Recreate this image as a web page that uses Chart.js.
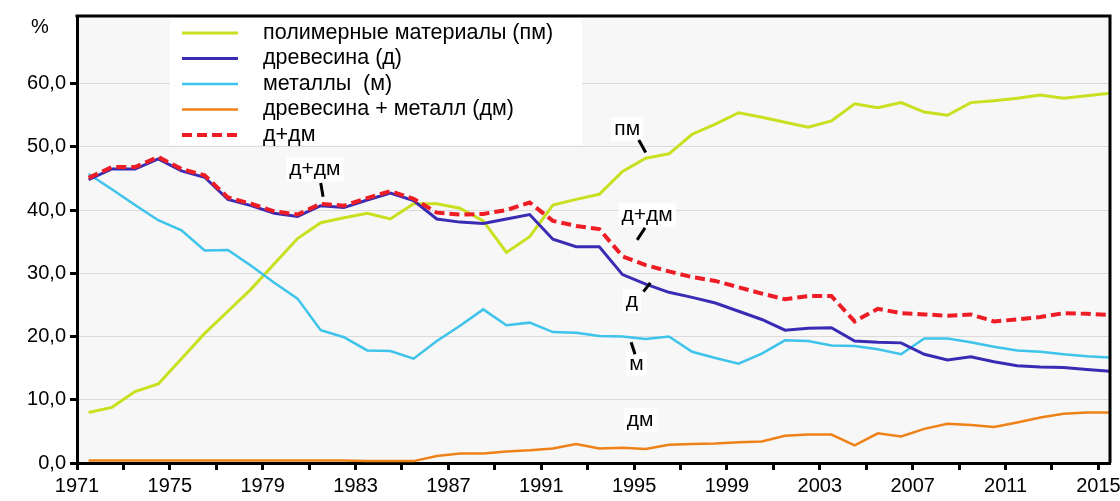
<!DOCTYPE html>
<html lang="ru">
<head>
<meta charset="utf-8">
<title>Материалы, %</title>
<script src="https://cdn.jsdelivr.net/npm/chart.js@4.4.1/dist/chart.umd.min.js"></script>
<style>
  html, body { margin: 0; padding: 0; background: #fff; }
  #wrap { width: 1120px; height: 501px; }
</style>
</head>
<body>
<div id="wrap"><canvas id="materialsChart" width="1120" height="501"></canvas></div>
<script>
// Years 1971..2015, one value per year
const years = Array.from({ length: 45 }, (_, i) => 1971 + i);

// Shares, %
const polymers = [8.0, 8.8, 11.3, 12.5, 16.5, 20.5, 24.0, 27.5, 31.5, 35.5,
                  38.0, 38.8, 39.5, 38.6, 41.0, 41.0, 40.3, 38.3, 33.3, 35.8,
                  40.8, 41.7, 42.5, 46.1, 48.2, 48.9, 52.0, 53.6, 55.4, 54.7,
                  53.9, 53.1, 54.1, 56.8, 56.2, 57.0, 55.5, 55.0, 57.0, 57.3,
                  57.7, 58.2, 57.7, 58.1, 58.5];
const wood = [44.8, 46.5, 46.5, 48.1, 46.2, 45.2, 41.7, 40.7, 39.5, 39.0,
              40.7, 40.4, 41.6, 42.7, 41.5, 38.6, 38.1, 37.9, 38.6, 39.3,
              35.4, 34.2, 34.2, 29.8, 28.3, 27.0, 26.2, 25.3, 24.0, 22.7,
              21.0, 21.3, 21.4, 19.3, 19.1, 19.0, 17.2, 16.3, 16.8, 16.0,
              15.4, 15.2, 15.1, 14.8, 14.5];
const metals = [45.7, 43.3, 40.8, 38.4, 36.8, 33.6, 33.7, 31.2, 28.5, 26.0,
                21.0, 19.9, 17.8, 17.7, 16.5, 19.3, 21.7, 24.3, 21.8, 22.2,
                20.7, 20.6, 20.1, 20.0, 19.6, 20.0, 17.6, 16.6, 15.7, 17.3,
                19.4, 19.3, 18.6, 18.5, 18.0, 17.2, 19.7, 19.7, 19.1, 18.4,
                17.8, 17.6, 17.2, 16.9, 16.7];
const woodMetal = [0.4, 0.4, 0.4, 0.4, 0.4, 0.4, 0.4, 0.4, 0.4, 0.4,
                   0.4, 0.4, 0.3, 0.3, 0.3, 1.1, 1.5, 1.5, 1.8, 2.0,
                   2.3, 3.0, 2.3, 2.4, 2.2, 2.9, 3.0, 3.1, 3.3, 3.4,
                   4.3, 4.5, 4.5, 2.8, 4.7, 4.2, 5.4, 6.2, 6.0, 5.7,
                   6.4, 7.2, 7.8, 8.0, 8.0];
const woodTotal = [45.1, 46.8, 46.8, 48.4, 46.5, 45.5, 42.0, 41.0, 39.8, 39.3,
                   41.0, 40.7, 41.9, 43.0, 41.8, 39.6, 39.3, 39.4, 40.0, 41.2,
                   38.3, 37.5, 37.0, 32.7, 31.3, 30.3, 29.4, 28.8, 27.8, 26.8,
                   25.9, 26.4, 26.4, 22.4, 24.4, 23.7, 23.5, 23.3, 23.5, 22.4,
                   22.7, 23.1, 23.7, 23.6, 23.4];

// Axis ticks
const xTickYears = [1971, 1975, 1979, 1983, 1987, 1991, 1995, 1999, 2003, 2007, 2011, 2015];
const yTickValues = [0, 10, 20, 30, 40, 50, 60];

// Short labels next to the lines: text centre and pointer ends in axis units
const notes = [
    { text: 'д+дм', x: 1981.25, y: 46.4, line: [1981.5, 44.3, 1981.6, 42.1] },
    { text: 'пм',   x: 1994.7,  y: 52.8, line: [1995.2, 51.1, 1995.5, 49.1] },
    { text: 'д+дм', x: 1995.56, y: 39.2, line: [1995.47, 37.2, 1995.13, 35.3] },
    { text: 'д',    x: 1994.9,  y: 25.6, line: [1995.7, 28.5, 1995.4, 27.1] },
    { text: 'м',    x: 1995.1,  y: 15.7, line: [1994.87, 19.1, 1995.04, 17.2] },
    { text: 'дм',   x: 1995.26, y: 6.8 }
];

const FONT = '"Liberation Sans", Arial, Helvetica, sans-serif';

// annual values sit in the middle of their year
function toPoints(values) {
    return years.map((yr, i) => ({ x: yr + 0.5, y: values[i] }));
}

const series = [
    { label: 'полимерные материалы (пм)', data: polymers, color: '#c8e020', width: 3, order: 4 },
    { label: 'древесина (д)', data: wood, color: '#3a2bb5', width: 3, order: 1 },
    { label: 'металлы  (м)', data: metals, color: '#3ec3ea', width: 2.5, order: 2 },
    { label: 'древесина + металл (дм)', data: woodMetal, color: '#ee8218', width: 2.5, order: 3 },
    { label: 'д+дм', data: woodTotal, color: '#ee1c25', width: 4, dash: [10, 5], order: 0 }
];

// Plot background, frame, legend box and line labels
const decorations = {
    id: 'decorations',
    beforeDatasetsDraw(chart) {
        const { ctx, chartArea: a } = chart;
        ctx.save();
        ctx.globalCompositeOperation = 'destination-over';
        ctx.fillStyle = '#f7f7f7';
        ctx.fillRect(a.left, a.top, a.right - a.left, a.bottom - a.top);
        ctx.restore();
    },
    afterDatasetsDraw(chart) {
        const { ctx, chartArea: a, scales: { x, y } } = chart;
        ctx.save();

        // top and right frame
        ctx.strokeStyle = '#000';
        ctx.lineWidth = 3;
        ctx.beginPath();
        ctx.moveTo(a.left - 1.5, a.top);
        ctx.lineTo(a.right, a.top);
        ctx.lineTo(a.right, a.bottom);
        ctx.stroke();

        // legend
        const lx = a.left + 93, ly = a.top + 2;
        ctx.fillStyle = '#fff';
        ctx.fillRect(lx, ly, 412, 127);
        ctx.font = '21.5px ' + FONT;
        ctx.textBaseline = 'middle';
        ctx.textAlign = 'left';
        series.forEach((s, i) => {
            const rowY = a.top + 17 + i * 25.5;
            ctx.strokeStyle = s.color;
            ctx.lineWidth = s.width;
            ctx.setLineDash(s.dash || []);
            ctx.beginPath();
            ctx.moveTo(a.left + 105, rowY);
            ctx.lineTo(a.left + 161, rowY);
            ctx.stroke();
            ctx.setLineDash([]);
            ctx.fillStyle = '#000';
            ctx.fillText(s.label, a.left + 186, rowY);
        });

        // labels beside the lines
        ctx.font = '21px ' + FONT;
        ctx.textAlign = 'center';
        notes.forEach(n => {
            const px = x.getPixelForValue(n.x);
            const py = y.getPixelForValue(n.y);
            const w = ctx.measureText(n.text).width;
            ctx.fillStyle = '#fff';
            ctx.fillRect(px - w / 2 - 3, py - 12, w + 6, 24);
            ctx.fillStyle = '#000';
            ctx.fillText(n.text, px, py);
            if (n.line) {
                ctx.strokeStyle = '#000';
                ctx.lineWidth = 3;
                ctx.beginPath();
                ctx.moveTo(x.getPixelForValue(n.line[0]), y.getPixelForValue(n.line[1]));
                ctx.lineTo(x.getPixelForValue(n.line[2]), y.getPixelForValue(n.line[3]));
                ctx.stroke();
            }
        });

        // unit above the value axis
        ctx.font = '20px ' + FONT;
        ctx.fillStyle = '#000';
        ctx.fillText('%', 40, 27);
        ctx.restore();
    }
};

document.addEventListener('DOMContentLoaded', function() {
    const ctx = document.getElementById('materialsChart').getContext('2d');
    const materialsChart = new Chart(ctx, {
        type: 'line',
        data: {
            datasets: series.map(s => ({
                label: s.label,
                data: toPoints(s.data),
                borderColor: s.color,
                backgroundColor: s.color,
                borderWidth: s.width,
                borderDash: s.dash || [],
                pointRadius: 0,
                tension: 0,
                order: s.order
            }))
        },
        options: {
            responsive: false,
            animation: false,
            layout: { padding: { top: 16, right: 10, left: 0, bottom: 0 } },
            plugins: {
                legend: { display: false },
                tooltip: { enabled: false }
            },
            scales: {
                x: {
                    type: 'linear',
                    min: 1971,
                    max: 2015.5,
                    afterBuildTicks: scale => {
                        scale.ticks = years.filter(yr => (yr - 1971) % 2 === 0).map(v => ({ value: v }));
                    },
                    afterFit: scale => {
                        scale.height = 38;
                        scale.paddingLeft = 0;
                        scale.paddingRight = 0;
                    },
                    ticks: {
                        autoSkip: false,
                        maxRotation: 0,
                        padding: 4,
                        color: '#000',
                        font: { family: FONT, size: 20 },
                        callback: v => xTickYears.includes(v) ? String(v) : ''
                    },
                    grid: {
                        drawOnChartArea: false,
                        tickLength: 7,
                        tickWidth: 3,
                        tickColor: '#000'
                    },
                    border: { color: '#000', width: 3 }
                },
                y: {
                    min: 0,
                    max: 70.7,
                    afterBuildTicks: scale => {
                        scale.ticks = yTickValues.map(v => ({ value: v }));
                    },
                    afterFit: scale => {
                        scale.width = 77;
                        scale.paddingTop = 0;
                        scale.paddingBottom = 0;
                    },
                    ticks: {
                        padding: 4,
                        color: '#000',
                        font: { family: FONT, size: 20 },
                        callback: v => v.toFixed(1).replace('.', ',')
                    },
                    grid: {
                        color: c => c.tick && c.tick.value > 0 ? '#dadada' : 'rgba(0,0,0,0)',
                        lineWidth: 1,
                        tickLength: 7,
                        tickWidth: 3,
                        tickColor: '#000'
                    },
                    border: { color: '#000', width: 3 }
                }
            }
        },
        plugins: [decorations]
    });
});
</script>
</body>
</html>
